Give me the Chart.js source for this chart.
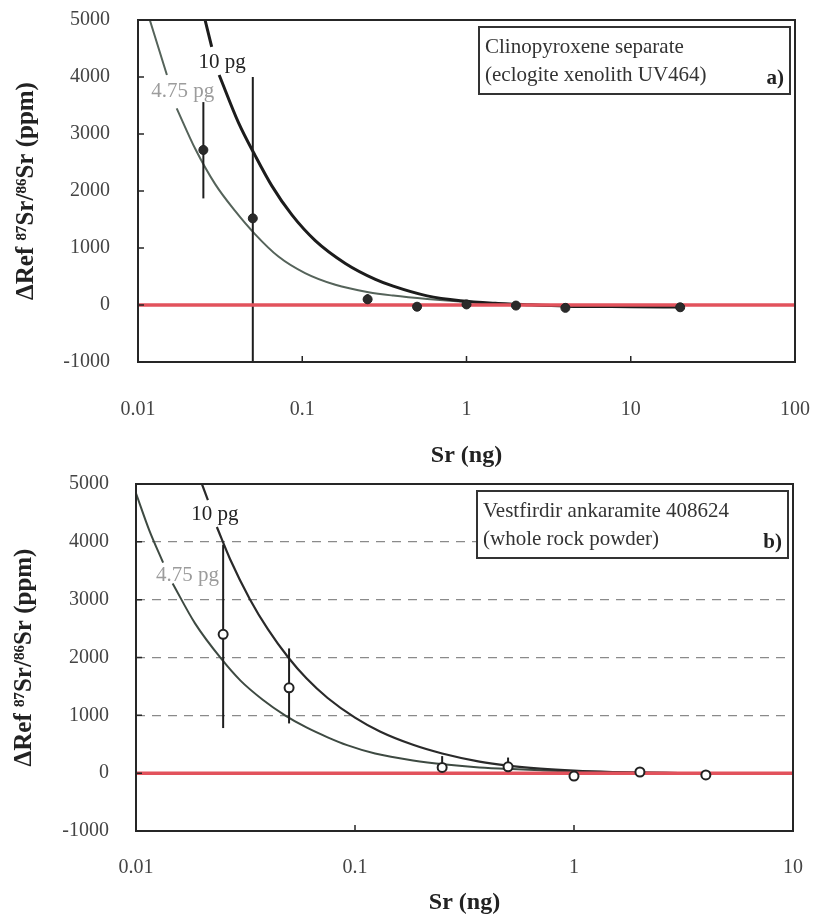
<!DOCTYPE html>
<html>
<head>
<meta charset="utf-8">
<script src="https://cdn.jsdelivr.net/npm/chart.js@4.4.0/dist/chart.umd.min.js"></script>
<style>
  body { margin: 0; background: #fff; }
  #wrap { position: relative; width: 816px; height: 921px; }
  .panel { position: absolute; left: 0; width: 816px; }
</style>
</head>
<body>
<div id="wrap">
  <div class="panel" style="top:0;height:470px"><canvas id="chartA" width="816" height="470"></canvas></div>
  <div class="panel" style="top:470px;height:451px"><canvas id="chartB" width="816" height="451"></canvas></div>
</div>

<script>
// ---- panel a : clinopyroxene separate ----
const xTicksA = [0.01, 0.1, 1, 10, 100];
const xLabelsA = ['0.01', '0.1', '1', '10', '100'];
const sampleXA = [0.025, 0.05, 0.25, 0.5, 1, 2, 4, 20];
const sampleYA = [2720, 1520, 100, -30, 10, -10, -50, -40];
const errLoA = [1870, -1000, -20, null, null, null, null, null];
const errHiA = [3560, 4000, 190, null, null, null, null, null];
// blank curves (null = gap where the label sits)
const blank10XA = [0.0256, 0.0281, 0.0296, 0.0312, 0.0409, 0.0517, 0.0653, 0.0865, 0.12, 0.183, 0.279, 0.358, 0.576, 0.918, 1.5, 2, 4, 10, 20];
const blank10YA = [5000, 4530, null, 4035, 3200, 2620, 2090, 1580, 1130, 730, 450, 330, 160, 75, 30, 15, -20, -30, -35];
const blank475XA = [0.0118, 0.015, 0.016, 0.0172, 0.0223, 0.0295, 0.039, 0.0517, 0.0716, 0.104, 0.159, 0.253, 0.358, 0.576, 0.918, 2, 5, 10, 20];
const blank475YA = [5000, 4035, null, 3450, 2740, 2120, 1650, 1240, 850, 560, 355, 225, 165, 105, 60, 5, -20, -30, -35];

// ---- panel b : Vestfirdir ankaramite ----
const xTicksB = [0.01, 0.1, 1, 10];
const xLabelsB = ['0.01', '0.1', '1', '10'];
const sampleXB = [0.025, 0.05, 0.25, 0.5, 1, 2, 4];
const sampleYB = [2400, 1476, 100, 110, -50, 20, -30];
const errLoB = [780, 860, -30, 40, null, null, null];
const errHiB = [3950, 2157, 295, 270, null, null, null];
const blank10XB = [0.02, 0.0213, 0.0223, 0.0234, 0.0269, 0.0332, 0.04, 0.0496, 0.06, 0.075, 0.1, 0.13, 0.184, 0.25, 0.37, 0.5, 0.7, 1, 1.5, 2, 3];
const blank10YB = [5000, 4723, null, 4256, 3700, 3000, 2490, 2000, 1640, 1300, 960, 720, 490, 340, 200, 130, 80, 45, 20, 10, 3];
const blank475XB = [0.01, 0.0115, 0.0133, 0.014, 0.0147, 0.0186, 0.0246, 0.03, 0.0379, 0.0479, 0.06, 0.075, 0.092, 0.1235, 0.184, 0.26, 0.37, 0.52, 0.7, 1, 2, 3];
const blank475YB = [4840, 4200, 3640, null, 3280, 2590, 1970, 1600, 1270, 1000, 790, 620, 485, 340, 220, 150, 100, 70, 50, 30, 10, 3];

const yTicks = [-1000, 0, 1000, 2000, 3000, 4000, 5000];
const yLabels = ['-1000', '0', '1000', '2000', '3000', '4000', '5000'];
const dashedRows = [1000, 2000, 3000, 4000];

const serif = "'Liberation Serif', 'Times New Roman', serif";
const yTitle = 'ΔRef ⁸⁷Sr/⁸⁶Sr (ppm)';

function pairs(xs, ys) {
  return xs.map((x, i) => ({ x: x, y: ys[i] }));
}

// frame, inner ticks, text box and curve labels
const panelDecor = {
  id: 'panelDecor',
  afterDatasetsDraw(chart, args, opts) {
    const ctx = chart.ctx;
    const ca = chart.chartArea;
    const xs = chart.scales.x, ys = chart.scales.y;
    ctx.save();
    // full frame
    ctx.strokeStyle = '#262626';
    ctx.lineWidth = 2;
    ctx.strokeRect(ca.left, ca.top, ca.right - ca.left, ca.bottom - ca.top);

    // small inward tick marks
    ctx.lineWidth = 1.5;
    ctx.beginPath();
    xs.ticks.forEach(t => {
      const px = xs.getPixelForValue(t.value);
      ctx.moveTo(px, ca.bottom);
      ctx.lineTo(px, ca.bottom - 6);
    });
    ys.ticks.forEach(t => {
      const py = ys.getPixelForValue(t.value);
      ctx.moveTo(ca.left, py);
      ctx.lineTo(ca.left + 6, py);
    });
    ctx.stroke();

    // curve labels
    ctx.font = '21px ' + serif;
    ctx.textAlign = 'center';
    ctx.textBaseline = 'middle';
    opts.curveLabels.forEach(l => {
      ctx.fillStyle = l.color;
      ctx.fillText(l.text, xs.getPixelForValue(l.x), ys.getPixelForValue(l.y));
    });

    // sample box
    const bx = ca.right - 316, by = ca.top + 7, bw = 311, bh = 67;
    ctx.fillStyle = '#fff';
    ctx.fillRect(bx, by, bw, bh);
    ctx.strokeStyle = '#333';
    ctx.lineWidth = 2;
    ctx.strokeRect(bx, by, bw, bh);
    ctx.fillStyle = '#333';
    ctx.textAlign = 'left';
    ctx.textBaseline = 'alphabetic';
    ctx.fillText(opts.boxLines[0], bx + 6, by + 26);
    ctx.fillText(opts.boxLines[1], bx + 6, by + 54);
    ctx.font = 'bold 21px ' + serif;
    ctx.textAlign = 'right';
    ctx.fillStyle = '#222';
    ctx.fillText(opts.tag, bx + bw - 6, by + 57);
    ctx.restore();
  }
};

function buildPanel(canvasId, p) {
  const datasets = [];
  datasets.push({
    data: pairs(p.sx, p.sy),
    showLine: false,
    pointRadius: 4.5,
    pointBackgroundColor: p.filled ? '#2a2a2a' : '#ffffff',
    pointBorderColor: '#222',
    pointBorderWidth: p.filled ? 1 : 2,
    order: 0
  });
  datasets.push({
    data: [{ x: p.xTicks[0], y: 0 }, { x: p.xTicks[p.xTicks.length - 1], y: 0 }],
    showLine: true,
    borderColor: '#e2525c',
    borderWidth: 3.5,
    pointRadius: 0,
    order: 1
  });
  p.sx.forEach((x, i) => {
    if (p.lo[i] === null) return;
    datasets.push({
      data: [{ x: x, y: p.lo[i] }, { x: x, y: p.hi[i] }],
      showLine: true,
      borderColor: '#1e1e1e',
      borderWidth: 2,
      pointRadius: 0,
      order: 2
    });
  });
  datasets.push({
    data: pairs(p.c10x, p.c10y),
    showLine: true,
    spanGaps: false,
    borderColor: p.c10color,
    borderWidth: p.c10width,
    pointRadius: 0,
    cubicInterpolationMode: 'monotone',
    order: 3
  });
  datasets.push({
    data: pairs(p.c475x, p.c475y),
    showLine: true,
    spanGaps: false,
    borderColor: p.c475color,
    borderWidth: 2,
    pointRadius: 0,
    cubicInterpolationMode: 'monotone',
    order: 4
  });

  return new Chart(document.getElementById(canvasId), {
    type: 'scatter',
    data: { datasets: datasets },
    plugins: [panelDecor],
    options: {
      responsive: false,
      animation: false,
      layout: { padding: { left: 0, right: p.padRight, top: p.padTop, bottom: p.padBottom } },
      plugins: {
        legend: { display: false },
        tooltip: { enabled: false },
        panelDecor: { curveLabels: p.curveLabels, boxLines: p.boxLines, tag: p.tag }
      },
      scales: {
        x: {
          type: 'logarithmic',
          min: p.xTicks[0],
          max: p.xTicks[p.xTicks.length - 1],
          afterBuildTicks: s => { s.ticks = p.xTicks.map(v => ({ value: v })); },
          afterFit: s => {
            s.height = p.xAxisHeight;
            s.paddingLeft = 0;
            s.paddingRight = 0;
          },
          grid: { display: false, drawTicks: false },
          border: { display: false },
          ticks: {
            padding: p.xTickPad,
            color: '#444',
            font: { family: serif, size: 20 },
            maxRotation: 0,
            autoSkip: false,
            callback: (v) => {
              const i = p.xTicks.indexOf(v);
              return i >= 0 ? p.xLabels[i] : '';
            }
          },
          title: {
            display: true,
            text: 'Sr (ng)',
            color: '#222',
            font: { family: serif, size: 24, weight: 'bold' },
            padding: { top: 0, bottom: p.xTitlePad }
          }
        },
        y: {
          min: -1000,
          max: 5000,
          afterBuildTicks: s => { s.ticks = yTicks.map(v => ({ value: v })); },
          afterFit: s => {
            s.width = p.yAxisWidth;
            s.paddingTop = 0;
            s.paddingBottom = 0;
          },
          grid: {
            drawTicks: false,
            color: c => (p.dashed && dashedRows.includes(c.tick.value)) ? '#8a8a8a' : 'rgba(0,0,0,0)',
            lineWidth: 1.3
          },
          border: { display: false, dash: [9, 7] },
          ticks: {
            padding: p.yTickPad,
            color: '#444',
            font: { family: serif, size: 20 },
            callback: (v) => {
              const i = yTicks.indexOf(v);
              return i >= 0 ? yLabels[i] : '';
            }
          },
          title: {
            display: true,
            text: yTitle,
            color: '#222',
            font: { family: serif, size: 25, weight: 'bold' },
            padding: { top: p.yTitlePad, bottom: 0 }
          }
        }
      }
    }
  });
}

buildPanel('chartA', {
  xTicks: xTicksA, xLabels: xLabelsA,
  sx: sampleXA, sy: sampleYA, lo: errLoA, hi: errHiA, filled: true,
  c10x: blank10XA, c10y: blank10YA, c10color: '#1c1c1c', c10width: 3,
  c475x: blank475XA, c475y: blank475YA, c475color: '#55635a',
  curveLabels: [
    { text: '10 pg', x: 0.0325, y: 4250, color: '#222' },
    { text: '4.75 pg', x: 0.0187, y: 3750, color: '#9c9c9c' }
  ],
  boxLines: ['Clinopyroxene separate', '(eclogite xenolith UV464)'], tag: 'a)',
  dashed: false,
  padRight: 21, padTop: 20, padBottom: 0,
  xAxisHeight: 108, yAxisWidth: 138,
  xTickPad: 36, yTickPad: 28, xTitlePad: 0, yTitlePad: 12
});

buildPanel('chartB', {
  xTicks: xTicksB, xLabels: xLabelsB,
  sx: sampleXB, sy: sampleYB, lo: errLoB, hi: errHiB, filled: false,
  c10x: blank10XB, c10y: blank10YB, c10color: '#2a2a2a', c10width: 2.2,
  c475x: blank475XB, c475y: blank475YB, c475color: '#3e4a42',
  curveLabels: [
    { text: '10 pg', x: 0.0229, y: 4470, color: '#222' },
    { text: '4.75 pg', x: 0.0172, y: 3420, color: '#9c9c9c' }
  ],
  boxLines: ['Vestfirdir ankaramite 408624', '(whole rock powder)'], tag: 'b)',
  dashed: true,
  padRight: 23, padTop: 14, padBottom: 0,
  xAxisHeight: 90, yAxisWidth: 136,
  xTickPad: 25, yTickPad: 27, xTitlePad: 4, yTitlePad: 10
});
</script>
</body>
</html>
